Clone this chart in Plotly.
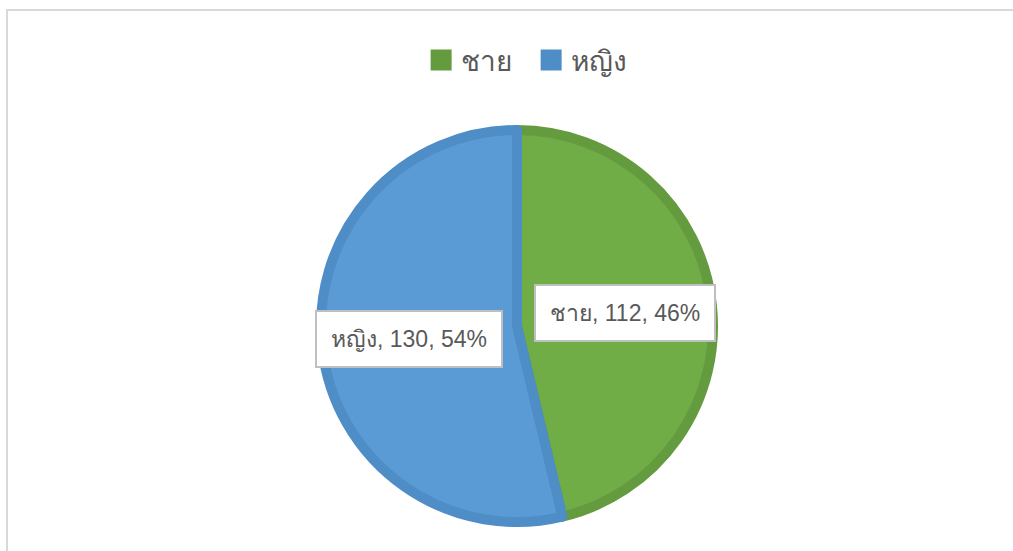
import math
import plotly.graph_objects as go

labels = ["ชาย", "หญิง"]
values = [112, 130]
fill_colors = ["#70AD47", "#5B9BD5"]
edge_colors = ["#649B3E", "#4F8DC6"]

total = sum(values)
pcts = [round(v / total * 100) for v in values]

W, H = 1013, 551
ML, MT, MR, MB = 7, 10, 0, 0
pw, ph = W - ML - MR, H - MT - MB

cx_px, cy_px = 517, 326       # pie centre in page pixels
line_w = 10
r_px = 201 - line_w / 2

cx = (cx_px - ML) / pw
cy = (H - MB - cy_px) / ph
dx = r_px / pw
dy = r_px / ph

fig = go.Figure()
fig.add_trace(go.Pie(
    labels=labels, values=values, sort=False, direction="clockwise", rotation=0,
    marker=dict(colors=fill_colors, line=dict(color=edge_colors, width=line_w)),
    textinfo="none", hoverinfo="label+value+percent", showlegend=False,
    domain=dict(x=[cx - dx, cx + dx], y=[cy - dy, cy + dy]),
))

for lab, col in zip(labels, edge_colors):
    fig.add_trace(go.Scatter(
        x=[None], y=[None], mode="markers", name=lab,
        marker=dict(symbol="square", size=16, color=col, line=dict(color=col, width=5)),
    ))

# data labels placed along each slice's mid-angle
font_family = "Liberation Sans, Arial, sans-serif"
cum = 0
for lab, v, p in zip(labels, values, pcts):
    mid = (cum + v / 2) / total * 2 * math.pi
    cum += v
    rr = 0.54 * (r_px + line_w / 2)
    ax = cx + rr * math.sin(mid) / pw
    ay = cy + rr * math.cos(mid) / ph
    fig.add_annotation(
        x=ax, y=ay, xref="paper", yref="paper", showarrow=False,
        text=f"{lab}, {v}, {p}%",
        font=dict(size=23, color="#595959", family=font_family),
        bgcolor="white", bordercolor="#BFBFBF", borderwidth=2, borderpad=14,
    )

fig.add_shape(type="rect", xref="paper", yref="paper", x0=0, x1=1.05, y0=-0.05, y1=1,
              line=dict(color="#D9D9D9", width=2), fillcolor="rgba(0,0,0,0)", layer="below")

fig.update_layout(
    width=W, height=H,
    margin=dict(l=ML, r=MR, t=MT, b=MB),
    paper_bgcolor="white", plot_bgcolor="white",
    xaxis=dict(visible=False), yaxis=dict(visible=False),
    legend=dict(orientation="h", x=0.521, xanchor="center", y=0.907, yanchor="middle",
                font=dict(size=28, color="#595959", family=font_family),
                itemwidth=30, tracegroupgap=0, entrywidth=65, entrywidthmode="pixels"),
    showlegend=True,
)

fig.write_html("out.html", config={"displayModeBar": False},
               post_script="document.body.style.margin='0';")
